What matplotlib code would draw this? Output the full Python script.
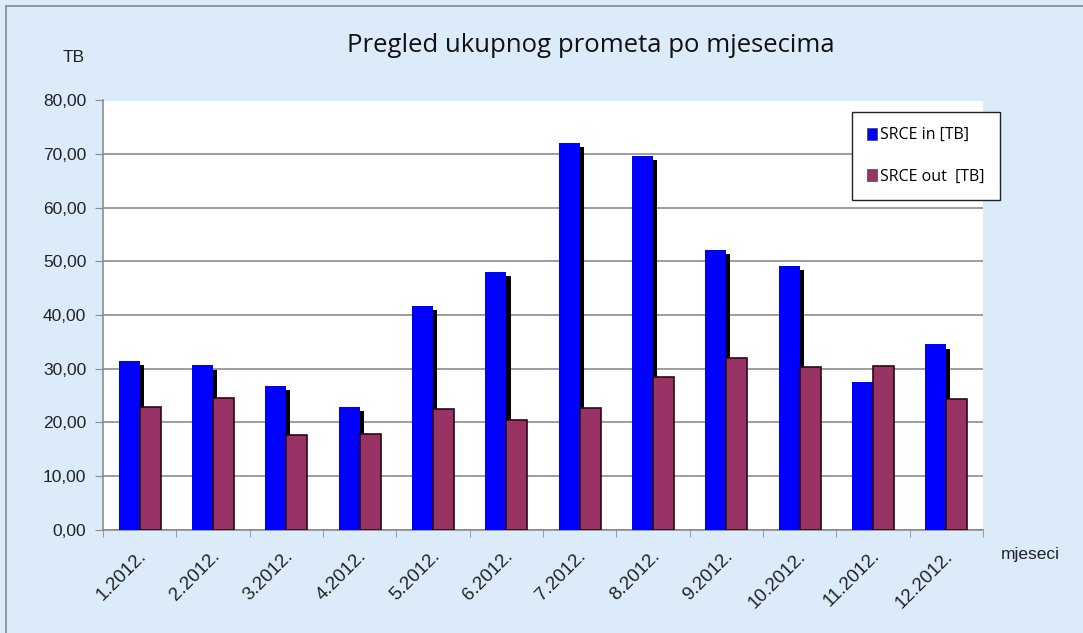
import matplotlib
matplotlib.use("Agg")
import matplotlib.pyplot as plt
import matplotlib.patheffects as pe
import matplotlib.transforms as mtransforms
from matplotlib.lines import Line2D
import numpy as np

months = ["1.2012.", "2.2012.", "3.2012.", "4.2012.", "5.2012.", "6.2012.",
          "7.2012.", "8.2012.", "9.2012.", "10.2012.", "11.2012.", "12.2012."]
srce_in = [31.4, 30.6, 26.7, 22.9, 41.7, 48.1, 72.1, 69.6, 52.1, 49.1, 27.5, 34.5]
srce_out = [22.9, 24.6, 17.7, 17.8, 22.4, 20.5, 22.7, 28.5, 31.9, 30.3, 30.5, 24.3]
yticks = [0, 10, 20, 30, 40, 50, 60, 70, 80]

W, H = 1083, 633
bg = "#dbebf9"
fig = plt.figure(figsize=(W / 100, H / 100), dpi=100, facecolor=bg)
# outer chart border (top and left visible)
fig.lines.append(Line2D([6 / W, 1], [1 - 6 / H, 1 - 6 / H], transform=fig.transFigure,
                        color="#8a8a8a", linewidth=1.2))
fig.lines.append(Line2D([6 / W, 6 / W], [0, 1 - 6 / H], transform=fig.transFigure,
                        color="#8a8a8a", linewidth=1.2))

ax = fig.add_axes([103 / W, 1 - 529.5 / H, 880 / W, 429 / H])
ax.set_facecolor("white")

x = np.arange(len(months))
bw = 0.285
shadow = [pe.SimplePatchShadow(offset=(3, -3), shadow_rgbFace="black", alpha=1.0), pe.Normal()]
b1 = ax.bar(x - bw / 2, srce_in, bw, color="#0000ff", edgecolor="none", zorder=3,
            label="SRCE in [TB]")
for p in b1:
    p.set_path_effects(shadow)
b2 = ax.bar(x + bw / 2, srce_out, bw, color="#993366", edgecolor="#2a0a14", linewidth=1.2,
            zorder=4, label="SRCE out  [TB]")

ax.set_xlim(-0.5, len(months) - 0.5)
ax.set_ylim(0, 80)
ax.set_yticks(yticks)
ax.set_yticklabels([f"{v:.2f}".replace(".", ",") for v in yticks],
                   fontsize=12.5, family="Liberation Sans", color="#222222")
ax.yaxis.grid(True, color="#8c8c8c", linewidth=1.2, zorder=0)
ax.set_axisbelow(True)
ax.tick_params(axis="y", length=6, color="#8c8c8c", pad=6)

# labels on major ticks at category centres, boundary marks via minor ticks
ax.set_xticks(x)
ax.set_xticklabels(months, rotation=45, ha="right", rotation_mode="anchor",
                   fontsize=13.5, family="Liberation Sans", color="#222222")
ax.tick_params(axis="x", which="major", length=0, pad=13)
ax.set_xticks(np.arange(len(months) + 1) - 0.5, minor=True)
ax.tick_params(axis="x", which="minor", length=5, color="#8c8c8c", direction="out")
offset = mtransforms.ScaledTranslation(-0.02, 0, fig.dpi_scale_trans)
for lbl in ax.get_xticklabels():
    lbl.set_transform(lbl.get_transform() + offset)

for s in ["top", "right"]:
    ax.spines[s].set_visible(False)
for s in ["left", "bottom"]:
    ax.spines[s].set_color("#8c8c8c")
    ax.spines[s].set_linewidth(1.2)

fig.text(591 / W, 1 - 45 / H, "Pregled ukupnog prometa po mjesecima", ha="center", va="center",
         fontsize=18.5, family="Open Sans", color="#111111")
fig.text(74 / W, 1 - 57 / H, "TB", ha="center", va="center", fontsize=12.5,
         family="Liberation Sans", color="#222222")
fig.text(1030 / W, 1 - 555 / H, "mjeseci", ha="center", va="center", fontsize=12.5,
         family="Liberation Sans", color="#222222")

leg = ax.legend(loc="upper left", bbox_to_anchor=(852 / W, 1 - 112 / H), bbox_transform=fig.transFigure,
                frameon=True, fancybox=False, edgecolor="#222222", framealpha=1,
                prop={"family": "Open Sans", "size": 11.5}, labelspacing=1.6,
                handlelength=0.6, handleheight=0.8, handletextpad=0.2, borderpad=0.95,
                borderaxespad=0)
leg.get_frame().set_linewidth(1.0)
for h in leg.legend_handles:
    h.set_path_effects([])
    h.set_edgecolor("#444444")
    h.set_linewidth(0.5)

fig.savefig("out.png", dpi=100, facecolor=bg)
